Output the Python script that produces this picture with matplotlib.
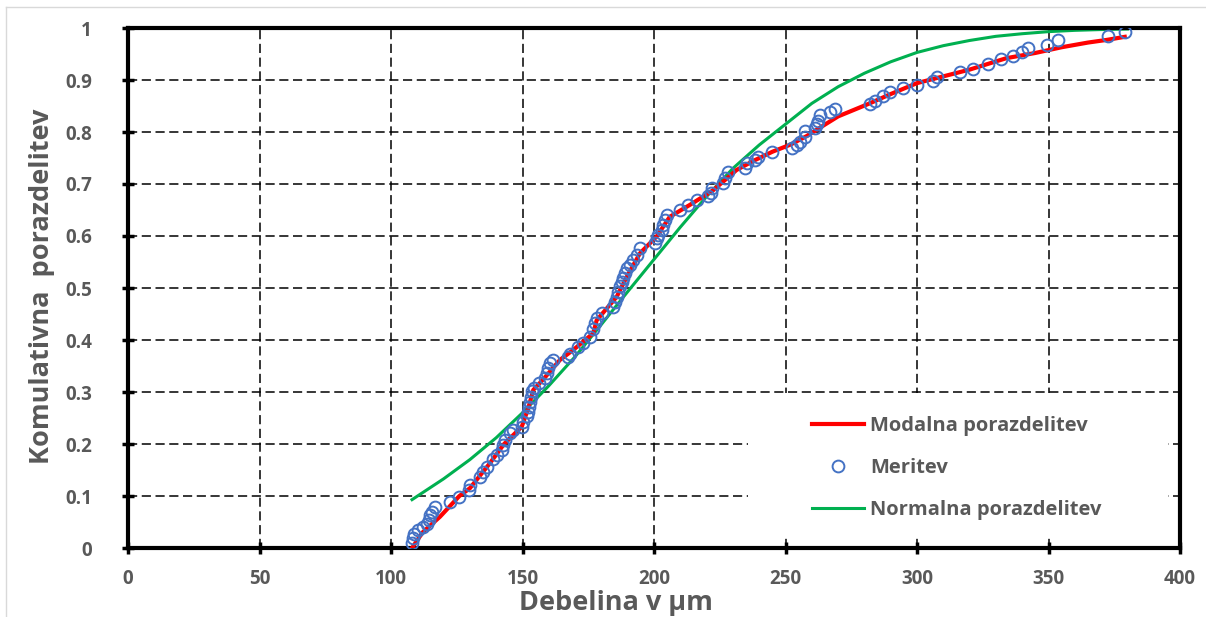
import numpy as np
import matplotlib
matplotlib.use("Agg")
import matplotlib.pyplot as plt
from matplotlib.patches import Rectangle
from matplotlib.lines import Line2D

# measured points (debelina, kumulativa)
meritev_x = [108.1, 108.5, 108.9, 110.4, 112.0, 113.6, 114.4, 114.8, 115.5, 116.7,
             122.4, 126.0, 129.8, 130.2, 133.8, 135.1, 136.4, 138.9, 140.2, 142.1,
             142.7, 143.3, 145.2, 146.5, 149.7, 150.3, 151.6, 152.2, 152.6, 152.9,
             153.1, 153.5, 154.4, 156.4, 158.6, 159.2, 159.8, 160.5, 161.7, 167.4,
             168.1, 171.2, 173.1, 175.7, 176.9, 177.6, 178.2, 180.1, 184.5, 185.2,
             185.8, 186.4, 187.1, 187.7, 188.3, 189.0, 189.6, 190.9, 192.1, 193.4,
             194.7, 200.4, 201.0, 201.6, 202.9, 203.5, 204.2, 205.1, 209.9, 213.1,
             216.2, 220.6, 221.5, 221.9, 226.3, 227.0, 228.3, 234.6, 235.2, 238.4,
             239.7, 245.0, 252.3, 254.2, 255.5, 257.4, 257.4, 261.2, 261.9, 262.5,
             263.1, 266.9, 268.8, 282.1, 284.0, 287.2, 289.7, 294.8, 299.9, 305.9,
             307.7, 316.3, 321.4, 327.1, 331.8, 336.6, 339.8, 342.3, 349.5, 353.7,
             372.7, 379.1]
meritev_y = [0.009, 0.019, 0.026, 0.035, 0.041, 0.047, 0.054, 0.063, 0.070, 0.078,
             0.089, 0.099, 0.112, 0.121, 0.137, 0.147, 0.156, 0.172, 0.179, 0.188,
             0.198, 0.208, 0.221, 0.227, 0.233, 0.243, 0.253, 0.262, 0.272, 0.281,
             0.291, 0.301, 0.307, 0.317, 0.326, 0.336, 0.346, 0.355, 0.362, 0.368,
             0.374, 0.387, 0.394, 0.406, 0.422, 0.432, 0.442, 0.451, 0.464, 0.474,
             0.483, 0.493, 0.503, 0.512, 0.519, 0.528, 0.538, 0.544, 0.554, 0.563,
             0.576, 0.586, 0.596, 0.602, 0.612, 0.621, 0.631, 0.640, 0.650, 0.660,
             0.669, 0.676, 0.683, 0.692, 0.701, 0.711, 0.724, 0.730, 0.740, 0.746,
             0.752, 0.762, 0.769, 0.775, 0.781, 0.791, 0.801, 0.807, 0.816, 0.822,
             0.833, 0.839, 0.845, 0.853, 0.860, 0.869, 0.876, 0.885, 0.891, 0.899,
             0.906, 0.915, 0.922, 0.930, 0.940, 0.946, 0.954, 0.962, 0.968, 0.977,
             0.985, 0.992]

# modalna porazdelitev (red)
modal_x = [108, 112, 118.6, 126, 130, 137.6, 143, 149.7, 152.2, 154.1, 158, 164.3,
           169.3, 176.9, 178.2, 185.8, 190, 194.7, 201, 206, 213.7, 222.5, 231.4,
           238, 245, 252, 258, 263, 270, 282, 290, 300, 310, 320, 334, 345, 355,
           365, 372, 379]
modal_y = [0.0, 0.03, 0.06, 0.1, 0.115, 0.163, 0.2, 0.233, 0.269, 0.304, 0.325,
           0.362, 0.381, 0.413, 0.438, 0.483, 0.525, 0.567, 0.599, 0.637, 0.66,
           0.688, 0.727, 0.745, 0.762, 0.776, 0.792, 0.808, 0.83, 0.855, 0.873,
           0.894, 0.907, 0.92, 0.942, 0.952, 0.963, 0.972, 0.977, 0.983]

# normalna porazdelitev (green)
normal_x = [108, 120, 130, 140, 150, 160, 170, 180, 190, 200, 210, 220, 230, 240,
            250, 260, 270, 280, 290, 300, 310, 320, 330, 340, 350, 360, 370, 380]
normal_y = [0.093, 0.133, 0.17, 0.212, 0.26, 0.312, 0.368, 0.43, 0.493, 0.555,
            0.617, 0.676, 0.73, 0.775, 0.815, 0.855, 0.887, 0.913, 0.935, 0.953,
            0.966, 0.976, 0.984, 0.989, 0.993, 0.9955, 0.997, 0.998]

gray = '#595959'
plt.rcParams['font.family'] = ['Open Sans', 'DejaVu Sans']
plt.rcParams['font.weight'] = 'bold'

fig = plt.figure(figsize=(12.06, 6.17), dpi=100)
ax = fig.add_axes([128/1206, 69/617, 1052/1206, 520/617])

# light chart-area border (left and top)
fig.add_artist(Line2D([6/1206, 6/1206], [0, 1 - 7/617], transform=fig.transFigure, color='#d9d9d9', lw=1))
fig.add_artist(Line2D([6/1206, 1], [1 - 7/617, 1 - 7/617], transform=fig.transFigure, color='#d9d9d9', lw=1))

ax.set_axisbelow(True)
ax.grid(True, color='black', lw=1.1, linestyle=(0, (6, 3)))

# legend background hides the grid
ax.add_patch(Rectangle((0.589, 0.025), 0.40, 0.273, transform=ax.transAxes,
                       facecolor='white', edgecolor='none', zorder=1))

l1, = ax.plot(modal_x, modal_y, color='#ff0000', lw=3, zorder=3, label='Modalna porazdelitev')
l2, = ax.plot(meritev_x, meritev_y, 'o', mfc='none', mec='#4472c4', ms=8.5, mew=1.4,
              zorder=4, label='Meritev')
l3, = ax.plot(normal_x, normal_y, color='#00b050', lw=2.2, zorder=2, label='Normalna porazdelitev')

ax.set_xlim(0, 400)
ax.set_ylim(0, 1)
ax.set_xticks(np.arange(0, 401, 50))
ax.set_yticks(np.arange(0, 1.01, 0.1))
ax.set_yticklabels(['0', '0.1', '0.2', '0.3', '0.4', '0.5', '0.6', '0.7', '0.8', '0.9', '1'])

for s in ax.spines.values():
    s.set_linewidth(3)
ax.tick_params(direction='inout', length=8, width=2.5, labelsize=13.5, labelcolor=gray)
ax.tick_params(axis='y', pad=22)
ax.tick_params(axis='x', pad=11)

fig.text(616/1206, 1 - 603/617, 'Debelina v µm', ha='center', va='center',
         fontsize=19.5, color=gray, fontweight='bold')
fig.text(42/1206, 1 - 286/617, 'Komulativna  porazdelitev', ha='center', va='center',
         rotation=90, fontsize=19.5, color=gray, fontweight='bold')

leg = ax.legend(handles=[l1, l2, l3], loc='upper left', bbox_to_anchor=(0.65, 0.254),
                frameon=False, fontsize=14.5, borderpad=0, borderaxespad=0,
                handlelength=2.6, handletextpad=0.3, labelspacing=1.1)
for t in leg.get_texts():
    t.set_color(gray)

fig.savefig('out.png', dpi=100)
